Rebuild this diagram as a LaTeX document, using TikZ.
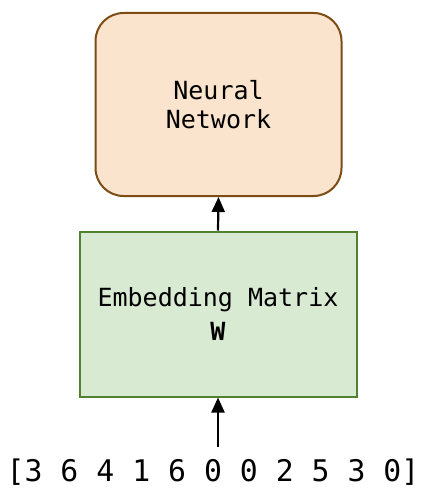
\documentclass[tikz,border=0pt]{standalone}
\usepackage{fontspec}
\setmonofont{DejaVu Sans Mono}
\usetikzlibrary{arrows.meta}
\definecolor{nnfill}{RGB}{251,228,205}
\definecolor{nndraw}{RGB}{125,75,20}
\definecolor{emfill}{RGB}{217,234,211}
\definecolor{emdraw}{RGB}{80,130,50}
\begin{document}
\begin{tikzpicture}[x=1pt,y=-1pt,
  lbl/.style={font=\ttfamily\fontsize{25}{29}\selectfont, align=center, text=black},
  nnbox/.style={lbl, draw=nndraw, fill=nnfill, line width=2pt, rounded corners=28pt,
    minimum width=246pt, minimum height=183pt, inner sep=0pt},
  embox/.style={lbl, draw=emdraw, fill=emfill, line width=2pt,
    minimum width=277pt, minimum height=165pt, inner sep=0pt},
  arr/.style={-{Triangle[length=15pt,width=13pt]}, line width=2.2pt, black}
]
\useasboundingbox (0,0) rectangle (427,489);
\node[nnbox] (nn) at (218.5,104.5) {Neural\\Network};
\node[embox] (emb) at (218,314) {Embedding Matrix\\[5pt]{\bfseries W}};
\node[font=\ttfamily\fontsize{29.8}{34}\selectfont, anchor=base, inner sep=0pt] (inp) at (213,481) {[3 6 4 1 6 0 0 2 5 3 0]};
\coordinate (inptop) at (218,447);
\draw[arr] (emb.north) -- (nn.south);
\draw[arr] (inptop) -- (emb.south);
\end{tikzpicture}
\end{document}
